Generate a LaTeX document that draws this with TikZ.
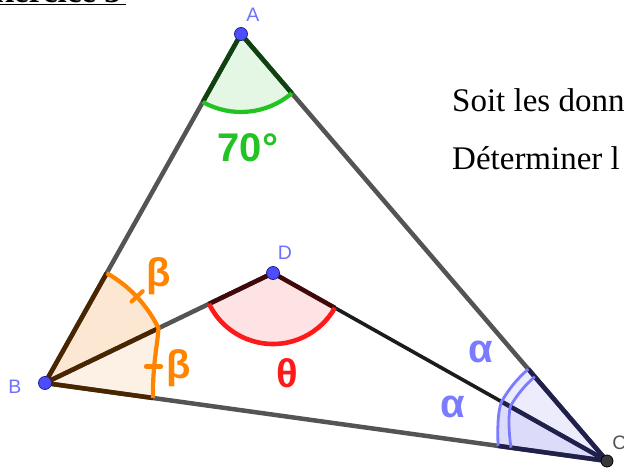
\documentclass[tikz,border=0pt]{standalone}
\usepackage{fontspec}
\setmainfont{Liberation Serif}
\newfontfamily\ggfont{Liberation Sans}
\usetikzlibrary{calc}
\definecolor{segcol}{HTML}{545454}
\definecolor{dccol}{HTML}{1C1C1C}
\definecolor{afill}{HTML}{E4F6E4}
\definecolor{aarc}{HTML}{22C322}
\definecolor{arad}{HTML}{0F420F}
\definecolor{bfillu}{HTML}{FCE7D2}
\definecolor{bfilll}{HTML}{FDF1E5}
\definecolor{barc}{HTML}{FF8400}
\definecolor{brad}{HTML}{4A2600}
\definecolor{dfill}{HTML}{FDE3E3}
\definecolor{darc}{HTML}{FF1A1A}
\definecolor{drad}{HTML}{400808}
\definecolor{cfillu}{HTML}{ECECFD}
\definecolor{cfilll}{HTML}{DCDCFA}
\definecolor{carc}{HTML}{7B7BFF}
\definecolor{crad}{HTML}{20204D}
\definecolor{ptlab}{HTML}{7070FF}
\definecolor{ptfill}{HTML}{4D4DFF}
\definecolor{ptdraw}{HTML}{23238C}
\begin{document}
\begin{tikzpicture}[x=1pt,y=-1pt,
  seg/.style={line width=4.5pt, draw=segcol},
  radial/.style={line width=4.5pt},
  anglearc/.style={line width=4.2pt},
  carcline/.style={line width=2.8pt, draw=carc},
  ptdot/.style={circle, fill=ptfill, draw=ptdraw, line width=0.8pt, minimum size=13pt, inner sep=0pt},
  ptname/.style={font=\ggfont\fontsize{19.5}{21}\selectfont, text=ptlab, inner sep=0pt},
  anglab/.style={font=\ggfont\bfseries\fontsize{40}{42}\selectfont, inner sep=0pt},
  doctext/.style={font=\fontsize{33}{36}\selectfont, anchor=base west, inner sep=0pt}]
\useasboundingbox (0,0) rectangle (624,468);
% vertices
\coordinate (A) at (241,34);
\coordinate (B) at (45,383);
\coordinate (C) at (607,461);
\coordinate (D) at (273,273);
% derived points
\coordinate (A1) at ($(A)!78pt!(B)$);
\coordinate (A2) at ($(A)!78pt!(C)$);
\coordinate (P1) at ($(B)!126pt!(A)$);
\coordinate (Q) at ($(B)!126pt!(D)$);
\coordinate (P2) at ($(B)!109pt!(C)$);
\coordinate (D1) at ($(D)!71pt!(B)$);
\coordinate (D2) at ($(D)!71pt!(C)$);
\coordinate (To) at ($(C)!121pt!(A)$);
\coordinate (Mo) at ($(C)!121pt!(D)$);
\coordinate (Bo) at ($(C)!110pt!(B)$);
\coordinate (Ti) at ($(C)!111pt!(A)$);
\coordinate (Mi) at ($(C)!111pt!(D)$);
\coordinate (Bi) at ($(C)!97pt!(B)$);
% fills
\fill[afill] (A) -- (A1) arc[start angle=119.32, end angle=49.40, radius=78] -- cycle;
\fill[bfillu] (B) -- (P1) arc[start angle=-60.68, end angle=-25.76, radius=126] -- cycle;
\fill[bfilll] (B) -- (Q) .. controls (157.5,345) and (152.5,365) .. (P2) -- cycle;
\fill[dfill] (D) -- (D1) arc[start angle=154.24, end angle=29.37, radius=71] -- cycle;
\fill[cfillu] (C) -- (To) arc[start angle=229.4, end angle=209.4, radius=121] -- cycle;
\fill[cfilll] (C) -- (Mo) .. controls (497.5,412) and (497.5,430) .. (Bo) -- cycle;
% segments
\draw[seg] (A) -- (B);
\draw[seg] (A) -- (C);
\draw[seg] (B) -- (C);
\draw[seg] (B) -- (D);
\draw[line width=3.6pt, draw=dccol] (D) -- (C);
% radial sides of the angle sectors
\draw[radial, draw=arad] (A1) -- (A) -- (A2);
\draw[radial, draw=brad] (P1) -- (B) -- (P2);
\draw[radial, draw=brad] (B) -- (Q);
\draw[radial, draw=drad] (D1) -- (D) -- (D2);
\draw[radial, draw=crad] (To) -- (C) -- (Bo);
\draw[radial, draw=crad] (C) -- (Mo);
% arcs
\draw[anglearc, draw=aarc] (A1) arc[start angle=119.32, end angle=49.40, radius=78];
\draw[anglearc, draw=barc] (P1) arc[start angle=-60.68, end angle=-25.76, radius=126]
  .. controls (157.5,345) and (152.5,365) .. (P2);
\draw[anglearc, draw=barc, line cap=round] ($(B)+(-43.22:119)$) -- ($(B)+(-43.22:134)$);
\draw[anglearc, draw=barc, line cap=round] (146,366.5) -- (161,366.5);
\draw[line width=4.6pt, draw=darc] (D1) arc[start angle=154.24, end angle=29.37, radius=71];
\draw[carcline] (To) arc[start angle=229.4, end angle=209.4, radius=121]
  .. controls (497.5,412) and (497.5,430) .. (Bo);
\draw[carcline] (Ti) arc[start angle=229.4, end angle=209.4, radius=111]
  .. controls (508,418) and (509,433) .. (Bi);
% points
\node[ptdot] (pA) at (A) {};
\node[ptdot] (pB) at (B) {};
\node[ptdot] (pD) at (D) {};
\node[circle, fill=black!78, draw=black, line width=0.8pt, minimum size=12pt, inner sep=0pt] (pC) at (C) {};
% point names
\node[ptname] (lA) at (253,15) {A};
\node[ptname] (lB) at (15,387) {B};
\node[ptname] (lD) at (285,253) {D};
\node[ptname, text=segcol] (lC) at (619.5,443) {C};
% angle labels
\node[anglab, text=aarc] (l70) at (248,148) {70°};
\node[anglab, text=barc] (lb1) at (159,276) {β};
\node[anglab, text=barc] (lb2) at (179,368) {β};
\node[anglab, text=darc] (lth) at (287,373) {θ};
\node[anglab, text=carc] (la1) at (481,352) {α};
\node[anglab, text=carc] (la2) at (453,407) {α};
% document text
\node[doctext] (t1) at (452,112) {Soit les donn};
\node[doctext] (t2) at (452,170) {Déterminer l};
\node[font=\bfseries\fontsize{33}{36}\selectfont, anchor=base east, inner sep=0pt] (ex) at (121,2.6) {Exercice 3};
\draw[line width=1.3pt] (0,4.3) -- (126,4.3);
\end{tikzpicture}
\end{document}
